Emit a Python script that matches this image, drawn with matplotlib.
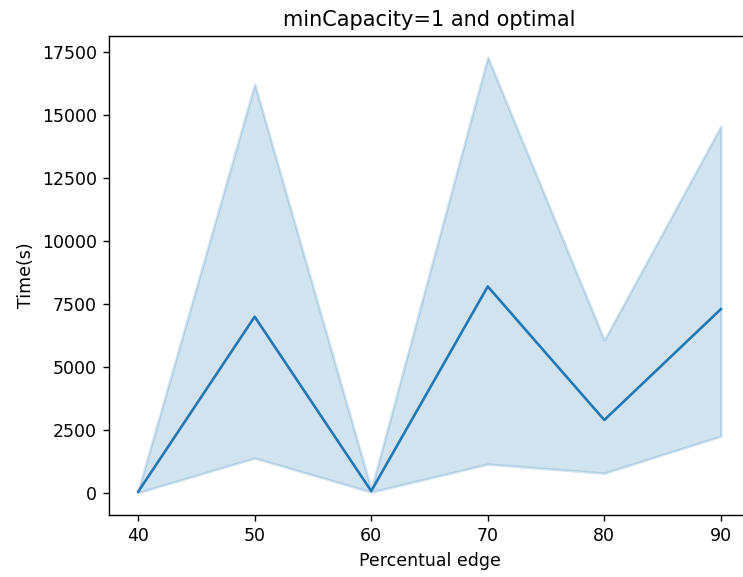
import numpy as np
import matplotlib.pyplot as plt

# percentual edge vs. time, mean with 95% ci band
edges = [40, 50, 60, 70, 80, 90]
mean_time = [50, 7000, 80, 8200, 2900, 7300]
ci_low = [20, 1390, 40, 1150, 790, 2260]
ci_high = [90, 16230, 150, 17300, 6070, 14560]

fig = plt.figure(figsize=(743 / 125, 577 / 125), dpi=125)
ax = fig.add_axes([0.1467, 0.1075, 0.8627, 0.830])
ax.fill_between(edges, ci_low, ci_high, color='#1f77b4', alpha=0.2, linewidth=1.5)
ax.plot(edges, mean_time, color='#1f77b4', linewidth=1.5)
ax.set_xlim(37.5, 92.5)
ax.set_ylim(-870, 18140)
ax.set_xticks(edges)
ax.set_yticks(np.arange(0, 17501, 2500))
ax.set_xlabel('Percentual edge')
ax.set_ylabel('Time(s)')
ax.set_title('minCapacity=1 and optimal')
fig.savefig('out.png', dpi=125)
